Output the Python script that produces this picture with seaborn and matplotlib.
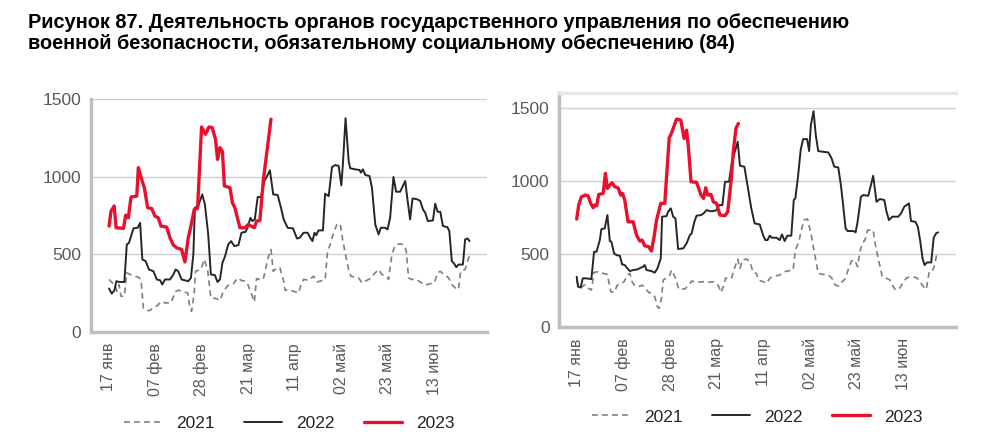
import matplotlib
matplotlib.use("Agg")
import matplotlib.pyplot as plt
import seaborn as sns
import pandas as pd

# ---------------- data (day offset from 17 Jan, value) ----------------
tick_days = [0, 21, 42, 63, 84, 105, 126, 147]
tick_labels = ["17 янв", "07 фев", "28 фев", "21 мар", "11 апр", "02 май", "23 май", "13 июн"]
years = ["2021", "2022", "2023"]

# Left chart
L2023_d = [0.3, 1.2, 2.6, 3.5, 6.8, 7.8, 9, 10.2, 12.8, 13.5, 15, 16.2, 17.7, 19.5, 21, 22.5, 23.7, 26.3, 27.8,
           29.3, 30.8, 33, 34.5, 36, 37.2, 38.7, 40.2, 42, 43.8, 45.3, 46.8, 48.3, 49.2, 50.3, 51.4, 52.3, 54.8,
           55.9, 57, 59.3, 61.6, 63, 65.8, 66.8, 68.3, 69.8, 71.3, 73.3]
L2023_v = [682, 778, 811, 671, 667, 752, 735, 869, 875, 1058, 983, 929, 800, 795, 746, 735, 682, 675, 606,
           559, 542, 531, 451, 606, 682, 789, 795, 1320, 1273, 1320, 1316, 1240, 1111, 1187, 1161, 940, 929,
           832, 800, 671, 671, 692, 671, 714, 718, 972, 1144, 1370]

L2022_d = [0.3, 1.5, 2.7, 3.6, 4.8, 7.2, 8.3, 9.3, 11.3, 13.2, 14.3, 15.3, 16.8, 18.3, 20.3, 21.8, 23.3, 24.3,
           25.5, 27.8, 29.3, 30.3, 31.5, 33, 36, 37.2, 38.3, 39, 40.5, 42.3, 43.5, 45, 46.2, 48, 49.2, 50.3,
           51.4, 52.6, 54, 55.3, 56.8, 58.6, 60, 61.9, 63, 64, 64.9, 66, 67.3, 68.8, 70.3, 71.8, 72.8, 74.3,
           76.3, 77.8, 79, 80.8, 83.2, 85, 86.2, 88, 89.8, 91, 92, 92.9, 93.7, 94.7, 96.7, 97.7, 99.3, 100.8,
           102.3, 103.8, 105, 105.7, 106.9, 108.3, 109, 111.3, 113.2, 113.8, 114.7, 115.8, 117.7, 118.8,
           120.3, 121.8, 122.8, 124.8, 125.8, 127, 128.5, 129.7, 131.5, 133.8, 134.8, 136, 137.1, 139.3,
           140.6, 141.8, 142.8, 144, 146.3, 147.3, 148.4, 149.6, 150.8, 152.8, 153.7, 154.8, 155.9, 156.8,
           157.8, 159.8, 160.8, 161.9, 162.8]
L2022_v = [280, 247, 267, 327, 322, 322, 563, 574, 667, 671, 703, 467, 456, 402, 391, 338, 333, 305,
           338, 338, 370, 402, 391, 338, 327, 348, 499, 800, 811, 886, 821, 628, 370, 366, 322, 338,
           445, 488, 563, 585, 553, 559, 639, 645, 682, 735, 714, 725, 869, 869, 972, 1011, 1041, 886,
           882, 800, 725, 671, 667, 602, 606, 639, 639, 606, 585, 639, 623, 654, 654, 890, 875, 1062,
           1075, 1069, 944, 1079, 1376, 1101, 1054, 1047, 1043, 1026, 1047, 1011, 1004, 929,
           692, 628, 671, 671, 660, 735, 998, 903, 903, 972, 854, 725, 860, 854,
           843, 789, 768, 714, 718, 826, 774, 774, 682, 675, 649, 456, 439, 417,
           434, 434, 596, 602, 585]

L2021_d = [0.3, 1.8, 3, 3.8, 4.8, 5.7, 7.2, 8.3, 9.8, 11.7, 13.5, 14.7, 15.8, 17.3, 18.8, 20.3, 21.8, 24,
           25.5, 28.2, 30.3, 31.8, 33.8, 35.7, 36.8, 37.5, 38.7, 39.3, 41.7, 43.2, 44.7, 46.2, 48.8, 50.3,
           51.8, 54, 56.3, 58.3, 60, 61.9, 63, 64.3, 65.8, 66.8, 68.3, 69.8, 72, 73.3, 74.3, 75.8, 77.3,
           79, 79.7, 81.2, 83.5, 85.8, 86.8, 88, 90.3, 92.5, 94, 95.5, 97.7, 98.8, 100, 101.5, 103, 104.5,
           105.7, 107.2, 108.3, 109.3, 111.3, 112.8, 114.3, 115.8, 118, 119.8, 121.8, 123.3, 125.2, 126.3,
           127.8, 129.3, 131.5, 133.3, 134.3, 135.3, 136.8, 138.8, 140.6, 142.8, 144.8, 146.9, 148.4,
           149.6, 151.1, 153.4, 154.8, 156.3, 157.8, 158.8, 160.8, 161.9, 162.8]
L2021_v = [338, 316, 305, 262, 305, 230, 230, 381, 370, 359, 353, 338, 150, 138, 138, 159, 166, 198,
           187, 187, 262, 269, 258, 252, 155, 133, 252, 391, 402, 467, 402, 219, 215, 202,
           262, 301, 310, 348, 331, 327, 301, 252, 194, 344, 338, 338, 477, 531, 391, 413, 413,
           327, 267, 273, 262, 252, 305, 338, 333, 359, 322, 327, 338, 520, 563, 639, 692, 697,
           585, 477, 402, 359, 353, 348, 316, 327, 344, 374, 402, 370, 359, 338,
           499, 559, 568, 559, 520, 348, 338, 338, 322, 301, 310, 316, 381,
           391, 370, 348, 305, 284, 273, 391, 402, 456, 492]

# Right chart
R2023_d = [0, 0.9, 2.1, 3.9, 5.1, 6.3, 7.4, 8.1, 9, 9.9, 11.9, 12.9, 13.8, 14.9, 15.9, 17.1, 18.6, 19.8,
           20.6, 21.6, 23.1, 25.4, 26.9, 28.4, 29.4, 30.6, 32.4, 33.6, 34.8, 35.9, 37.8, 39.6, 41.6, 42.6,
           44.9, 46.8, 48.3, 49.4, 50.2, 51.4, 53.9, 55.9, 57, 58, 58.9, 60.4, 61.4, 62.9, 64.4, 66.7,
           67.9, 69.4, 70.4, 71.6, 72.7]
R2023_v = [739, 834, 891, 903, 898, 846, 816, 834, 830, 907, 914, 1051, 948, 971, 987, 960, 953, 903,
           914, 869, 720, 720, 629, 588, 595, 556, 549, 520, 618, 732, 846, 846, 1295, 1325,
           1423, 1416, 1290, 1347, 1233, 994, 990, 903, 880, 953, 903, 907, 857, 846, 766, 762,
           789, 994, 1199, 1359, 1393]

R2022_d = [0, 0.6, 1.8, 2.7, 4.4, 6.6, 7.8, 8.9, 10.4, 11.1, 12.6, 13.8, 14.9, 15.6, 16.8, 17.9, 19.4,
           20.4, 21.6, 22.8, 23.9, 25.4, 27.3, 28.8, 29.9, 30.6, 31.4, 33.6, 35.1, 36.3, 37.8, 38.4, 40.4,
           41.1, 42.3, 43.4, 44.4, 45.6, 47.9, 49.4, 50.9, 51.7, 52.9, 53.9, 55.9, 57, 58.4, 59.9, 61.4,
           62.9, 64, 65.5, 66.7, 68.5, 69.7, 70.9, 72.4, 73.4, 75.4, 76.9, 78.5, 80, 82.3, 83.8, 84.8,
           85.8, 86.8, 87.8, 89.8, 91.3, 92.3, 93.5, 94.7, 96.5, 97.6, 98.3, 99.5, 100.7, 101.8, 103.6,
           104.5, 105.3, 106.5, 107.5, 108.6, 110.8, 113.1, 114.6, 115.8, 117.6, 118.8, 119.8, 120.9,
           121.8, 124.4, 125.4, 126.3, 127.8, 128.8, 131.1, 133.3, 134.8, 136.3, 138.3, 139.3, 140.4,
           141.9, 144.6, 145.8, 147.3, 149.4, 150.3, 152.3, 153.4, 154.5, 155.5, 156.4, 157.5, 159.4,
           160.5, 161.6, 162.5]
R2022_v = [344, 276, 271, 333, 333, 328, 515, 515, 595, 670, 675, 766, 588, 584, 504, 492, 488,
           429, 424, 401, 383, 390, 394, 406, 413, 424, 390, 383, 372, 401, 470, 755, 759,
           789, 812, 755, 743, 534, 538, 572, 629, 641, 720, 762, 766, 777, 800, 793, 793,
           800, 834, 834, 994, 994, 1119, 1188, 1268, 1104, 1097, 960, 812, 709, 702, 629, 595,
           595, 625, 611, 611, 595, 634, 588, 625, 625, 869, 880, 1028, 1211, 1286, 1286,
           1204, 1382, 1477, 1313, 1204, 1199, 1195, 1154, 1097, 1092, 971, 834, 675,
           657, 657, 648, 720, 891, 903, 898, 1035, 857, 876, 869, 789, 732,
           755, 755, 777, 823, 846, 725, 720, 686, 584, 470, 424, 442, 442,
           611, 641, 648]

R2021_d = [0, 0.9, 2.1, 3.3, 4.4, 5.4, 6.6, 7.8, 9.6, 11.9, 13.8, 15.3, 16.8, 18.3, 19.8, 21.3, 22.8,
           23.9, 24.9, 26.1, 27.9, 29.4, 30.6, 32.4, 33.9, 35.1, 36.3, 37.1, 38.1, 38.9, 40.4, 41.9, 42.6,
           43.8, 44.4, 45.9, 48.6, 50.2, 51.7, 53.9, 56.9, 59.2, 61.4, 63.7, 64.9, 65.9, 67, 68.2, 69.7,
           71.2, 72.4, 73.4, 74.5, 76.4, 77.9, 79.3, 80.8, 81.8, 83.8, 85.3, 86.8, 87.8, 89.8, 91.3, 93.2,
           94.7, 97.3, 98.3, 99.8, 101, 102.2, 103.8, 105.3, 106.8, 108.6, 110.8, 113.1, 114.6, 116.3,
           117.8, 119.4, 120.9, 122, 123.5, 125, 126.3, 127.3, 128.4, 129.6, 130.8, 133.3, 134.3, 135.9,
           137.4, 138.9, 140.9, 141.9, 143.4, 145.4, 146.9, 148.4, 150.6, 152.9, 154.4, 155.9, 157.2,
           158.5, 160, 160.9, 161.9]
R2021_v = [321, 269, 269, 287, 287, 264, 253, 374, 378, 367, 360, 242, 237, 287, 299, 310, 356,
           367, 310, 283, 276, 287, 269, 237, 230, 207, 139, 128, 196, 321, 337, 356, 390,
           356, 333, 260, 260, 283, 315, 306, 310, 306, 310, 283, 237, 276, 337, 328, 337,
           413, 465, 401, 458, 465, 447, 374, 367, 321, 310, 299, 333, 344, 351, 356, 378,
           383, 390, 527, 579, 663, 732, 739, 641, 515, 367, 360, 356, 337, 287,
           280, 310, 333, 390, 451, 458, 413, 515, 572, 595, 663, 663, 561, 447,
           344, 337, 321, 287, 253, 269, 310, 337, 344, 337, 310, 276, 258,
           378, 383, 424, 497]

# ---------------- plotting ----------------
sns.set_theme(style="white")
plt.rcParams["font.family"] = ["Liberation Sans", "DejaVu Sans"]

fig = plt.figure(figsize=(9.9, 4.48), dpi=100)
fig.text(0.028, 0.970, "Рисунок 87. Деятельность органов государственного управления по обеспечению\n"
         "военной безопасности, обязательному социальному обеспечению (84)",
         ha="left", va="top", fontsize=14.4, fontweight="bold", color="black", linespacing=1.12)

ax1 = fig.add_axes([0.092, 0.259, 0.400, 0.520])
ax2 = fig.add_axes([0.565, 0.270, 0.401, 0.522])

styles = {
    "2021": dict(color="#7f7f7f", lw=1.2, dashes=(3.5, 2.5)),
    "2022": dict(color="#262626", lw=1.4, dashes=None),
    "2023": dict(color="#e8112d", lw=2.4, dashes=None),
}


def draw(ax, series, ymax, topline):
    for yr, (d, v) in zip(years, series):
        df = pd.DataFrame({"day": d, "value": v})
        st = styles[yr]
        line_kw = dict(color=st["color"], linewidth=st["lw"], label=yr)
        sns.lineplot(data=df, x="day", y="value", ax=ax, sort=False, estimator=None, **line_kw)
        if st["dashes"] is not None:
            ax.lines[-1].set_dashes(st["dashes"])
    ax.set_xlim(-7.8, 170.7)
    ax.set_ylim(0, ymax)
    ax.set_yticks([0, 500, 1000, 1500])
    ax.set_xticks(tick_days)
    ax.set_xticklabels(tick_labels, rotation=90, fontsize=11.5, color="#595959")
    ax.tick_params(axis="y", labelsize=12.5, colors="#595959", length=0, pad=7)
    ax.tick_params(axis="x", length=0, pad=8)
    ax.set_xlabel("")
    ax.set_ylabel("")
    for v in [500, 1000, 1500]:
        ax.axhline(v, color="#d0d0d0", lw=1.0, zorder=0)
    ax.spines["right"].set_visible(False)
    if topline:
        ax.spines["top"].set_color("#e6e6e6")
        ax.spines["top"].set_linewidth(2.5)
    else:
        ax.spines["top"].set_visible(False)
    for s in ["left", "bottom"]:
        ax.spines[s].set_color("#bfbfbf")
        ax.spines[s].set_linewidth(2.5)
    if ax.get_legend() is not None:
        ax.get_legend().remove()
    handles, labels = ax.get_legend_handles_labels()
    return handles, labels


h1, l1 = draw(ax1, [(L2021_d, L2021_v), (L2022_d, L2022_v), (L2023_d, L2023_v)], 1500, False)
h2, l2 = draw(ax2, [(R2021_d, R2021_v), (R2022_d, R2022_v), (R2023_d, R2023_v)], 1600, True)

leg_kw = dict(loc="center", ncol=3, frameon=False, fontsize=12.5, handlelength=2.2,
              columnspacing=1.7, handletextpad=0.8)
fig.legend(h1, l1, bbox_to_anchor=(289 / 990, 1 - 423 / 448), **leg_kw)
fig.legend(h2, l2, bbox_to_anchor=(757 / 990, 1 - 417 / 448), **leg_kw)

fig.savefig("out.png", dpi=100)
